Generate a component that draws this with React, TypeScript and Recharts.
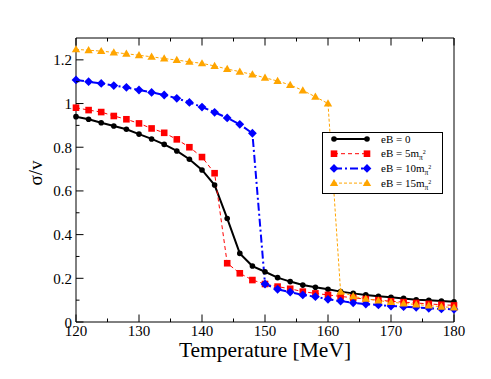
import { LineChart, Line, XAxis, YAxis, Legend, Label } from "recharts";

const FONT = '"Liberation Serif", "Times New Roman", serif';

// temperature grid [MeV]
const temps = [
  120, 122, 124, 126, 128, 130, 132, 134, 136, 138, 140, 142, 144, 146, 148, 150,
  152, 154, 156, 158, 160, 162, 164, 166, 168, 170, 172, 174, 176, 178, 180,
];

// sigma / v for each magnetic field
const sigmaEB0 = [
  0.94, 0.928, 0.912, 0.897, 0.882, 0.86, 0.838, 0.813, 0.783, 0.745, 0.696, 0.627,
  0.474, 0.314, 0.256, 0.23, 0.203, 0.185, 0.169, 0.159, 0.15, 0.139, 0.131, 0.124,
  0.118, 0.113, 0.108, 0.102, 0.099, 0.096, 0.093,
];
const sigmaEB5 = [
  0.981, 0.97, 0.961, 0.943, 0.928, 0.909, 0.886, 0.866, 0.836, 0.8, 0.755, 0.681,
  0.269, 0.223, 0.192, 0.174, 0.162, 0.152, 0.139, 0.131, 0.124, 0.117, 0.111, 0.105,
  0.1, 0.095, 0.091, 0.087, 0.083, 0.079, 0.076,
];
const sigmaEB10 = [
  1.108, 1.1, 1.092, 1.082, 1.074, 1.062, 1.051, 1.039, 1.024, 1.005, 0.984, 0.96,
  0.934, 0.905, 0.864, 0.174, 0.15, 0.137, 0.124, 0.116, 0.104, 0.096, 0.088, 0.082,
  0.078, 0.073, 0.07, 0.067, 0.063, 0.06, 0.058,
];
const sigmaEB15 = [
  1.248, 1.244, 1.24, 1.234, 1.228, 1.221, 1.214, 1.206, 1.199, 1.191, 1.184, 1.172,
  1.158, 1.146, 1.133, 1.118, 1.103, 1.085, 1.06, 1.031, 1.0, 0.139, 0.118, 0.106,
  0.098, 0.091, 0.085, 0.08, 0.075, 0.07, 0.066,
];

const xTicks = [120, 125, 130, 135, 140, 145, 150, 155, 160, 165, 170, 175, 180];
const yTicks = [0, 0.1, 0.2, 0.3, 0.4, 0.5, 0.6, 0.7, 0.8, 0.9, 1, 1.1, 1.2];

const data = temps.map((t, i) => ({
  t,
  b0: sigmaEB0[i],
  b5: sigmaEB5[i],
  b10: sigmaEB10[i],
  b15: sigmaEB15[i],
}));

const isMajorX = (v: number) => v % 10 === 0;
const isMajorY = (v: number) => Math.round(v * 10) % 2 === 0;
const fmtY = (v: number) => String(Number(v.toFixed(1)));

// grace-style ticks: pointing into the frame, labels only on bottom/left
function FrameTick(props: any) {
  const { x, y, payload, side } = props;
  const v = payload.value as number;
  const major = side === "bottom" || side === "top" ? isMajorX(v) : isMajorY(v);
  const len = major ? 7.5 : 3.5;
  const line = { stroke: "#000", strokeWidth: 1 };
  if (side === "bottom")
    return (
      <g>
        <line x1={x} y1={y} x2={x} y2={y - len} {...line} />
        {major && (
          <text x={x} y={y + 14} textAnchor="middle" fontSize={15} fontFamily={FONT} fill="#000">
            {v}
          </text>
        )}
      </g>
    );
  if (side === "top")
    return <line x1={x} y1={y} x2={x} y2={y + len} {...line} />;
  if (side === "left")
    return (
      <g>
        <line x1={x} y1={y} x2={x + len} y2={y} {...line} />
        {major && (
          <text x={x - 4} y={y + 5.5} textAnchor="end" fontSize={15} fontFamily={FONT} fill="#000">
            {fmtY(v)}
          </text>
        )}
      </g>
    );
  return <line x1={x} y1={y} x2={x - len} y2={y} {...line} />;
}

const circleDot = (p: any) => (
  <circle key={`c${p.index}`} cx={p.cx} cy={p.cy} r={2.8} fill="#000" />
);
const squareDot = (p: any) => (
  <rect key={`s${p.index}`} x={p.cx - 3.3} y={p.cy - 3.3} width={6.6} height={6.6} fill="#ff0000" />
);
const diamondDot = (p: any) => (
  <polygon
    key={`d${p.index}`}
    points={`${p.cx},${p.cy - 4.4} ${p.cx + 4.4},${p.cy} ${p.cx},${p.cy + 4.4} ${p.cx - 4.4},${p.cy}`}
    fill="#0000ff"
  />
);
const triangleDot = (p: any) => (
  <polygon
    key={`t${p.index}`}
    points={`${p.cx},${p.cy - 4.2} ${p.cx + 4.2},${p.cy + 3} ${p.cx - 4.2},${p.cy + 3}`}
    fill="#ffa500"
  />
);

const legendRows = [
  { label: "0", color: "#000", width: 2, dash: undefined, mark: "circle" },
  { label: "5", color: "#ff0000", width: 1, dash: "4 3", mark: "square" },
  { label: "10", color: "#0000ff", width: 2, dash: "8 3 2 3", mark: "diamond" },
  { label: "15", color: "#ffa500", width: 1, dash: "3 2", mark: "triangle" },
];

function LegendMark({ kind, x, y, color }: any) {
  if (kind === "circle") return <circle cx={x} cy={y} r={2.8} fill={color} />;
  if (kind === "square")
    return <rect x={x - 3.3} y={y - 3.3} width={6.6} height={6.6} fill={color} />;
  if (kind === "diamond")
    return <polygon points={`${x},${y - 4.4} ${x + 4.4},${y} ${x},${y + 4.4} ${x - 4.4},${y}`} fill={color} />;
  return <polygon points={`${x},${y - 4.2} ${x + 4.2},${y + 3} ${x - 4.2},${y + 3}`} fill={color} />;
}

function LegendBox() {
  return (
    <svg width={121} height={62} style={{ display: "block" }}>
      <rect x={0.5} y={0.5} width={120} height={61} fill="#fff" stroke="#000" strokeWidth={1} />
      {legendRows.map((r, i) => {
        const y = 7 + i * 14.7;
        return (
          <g key={r.label}>
            <line x1={12} y1={y} x2={45} y2={y} stroke={r.color} strokeWidth={r.width} strokeDasharray={r.dash} />
            <LegendMark kind={r.mark} x={12} y={y} color={r.color} />
            <LegendMark kind={r.mark} x={45} y={y} color={r.color} />
            <text x={59} y={y + 3.5} fontSize={11} fontFamily={FONT} fill="#000">
              {`eB = ${r.label}`}
              {r.label !== "0" && <tspan>m</tspan>}
              {r.label !== "0" && (
                <tspan fontSize={7.5} dy={3}>
                  π
                </tspan>
              )}
              {r.label !== "0" && (
                <tspan fontSize={6} dy={-6}>
                  2
                </tspan>
              )}
            </text>
          </g>
        );
      })}
    </svg>
  );
}

// frame: left 76, right 454, top 38, bottom 322
export default function App() {
  return (
    <div style={{ position: "absolute", left: 0, top: 0, fontFamily: FONT, background: "#fff" }}>
      <LineChart width={491} height={379} data={data} margin={{ top: 28, right: 27, bottom: 27, left: 36 }}>
        <XAxis
          xAxisId="b"
          type="number"
          dataKey="t"
          domain={[120, 180]}
          ticks={xTicks}
          interval={0}
          height={30}
          tickSize={0}
          tickMargin={0}
          tickLine={false}
          axisLine={{ stroke: "#000", strokeWidth: 1 }}
          tick={(p: any) => <FrameTick {...p} side="bottom" />}
        >
          <Label
            content={({ viewBox }: any) => (
              <text
                x={viewBox.x + viewBox.width / 2}
                y={viewBox.y + 35}
                textAnchor="middle"
                fontSize={21.5}
                fontFamily={FONT}
                fill="#000"
              >
                Temperature [MeV]
              </text>
            )}
          />
        </XAxis>
        <XAxis
          xAxisId="t"
          orientation="top"
          type="number"
          dataKey="t"
          domain={[120, 180]}
          ticks={xTicks}
          interval={0}
          height={10}
          tickSize={0}
          tickMargin={0}
          tickLine={false}
          axisLine={{ stroke: "#000", strokeWidth: 1 }}
          tick={(p: any) => <FrameTick {...p} side="top" />}
        />
        <YAxis
          yAxisId="l"
          type="number"
          domain={[0, 1.3]}
          ticks={yTicks}
          interval={0}
          width={40}
          tickSize={0}
          tickMargin={0}
          tickLine={false}
          axisLine={{ stroke: "#000", strokeWidth: 1 }}
          tick={(p: any) => <FrameTick {...p} side="left" />}
        >
          <Label
            content={({ viewBox }: any) => {
              const cx = viewBox.x + viewBox.width - 34.5;
              const cy = viewBox.y + viewBox.height / 2 - 7;
              return (
                <text
                  x={cx}
                  y={cy}
                  textAnchor="middle"
                  fontSize={19}
                  fontFamily={FONT}
                  fill="#000"
                  transform={`rotate(-90, ${cx}, ${cy})`}
                >
                  σ/v
                </text>
              );
            }}
          />
        </YAxis>
        <YAxis
          yAxisId="r"
          orientation="right"
          type="number"
          domain={[0, 1.3]}
          ticks={yTicks}
          interval={0}
          width={10}
          tickSize={0}
          tickMargin={0}
          tickLine={false}
          axisLine={{ stroke: "#000", strokeWidth: 1 }}
          tick={(p: any) => <FrameTick {...p} side="right" />}
        />
        <Line xAxisId="b" yAxisId="l" type="linear" dataKey="b0" stroke="#000" strokeWidth={2} dot={circleDot} activeDot={false} isAnimationActive={false} />
        <Line xAxisId="b" yAxisId="l" type="linear" dataKey="b5" stroke="#ff0000" strokeWidth={1} strokeDasharray="4 3" dot={squareDot} activeDot={false} isAnimationActive={false} />
        <Line xAxisId="b" yAxisId="l" type="linear" dataKey="b10" stroke="#0000ff" strokeWidth={2} strokeDasharray="8 3 2 3" dot={diamondDot} activeDot={false} isAnimationActive={false} />
        <Line xAxisId="b" yAxisId="l" type="linear" dataKey="b15" stroke="#ffa500" strokeWidth={1} strokeDasharray="3 2" dot={triangleDot} activeDot={false} isAnimationActive={false} />
        <Legend
          layout="horizontal"
          verticalAlign="middle"
          align="center"
          wrapperStyle={{ left: 322, top: 132, width: 121, height: 62 }}
          content={() => <LegendBox />}
        />
      </LineChart>
    </div>
  );
}
